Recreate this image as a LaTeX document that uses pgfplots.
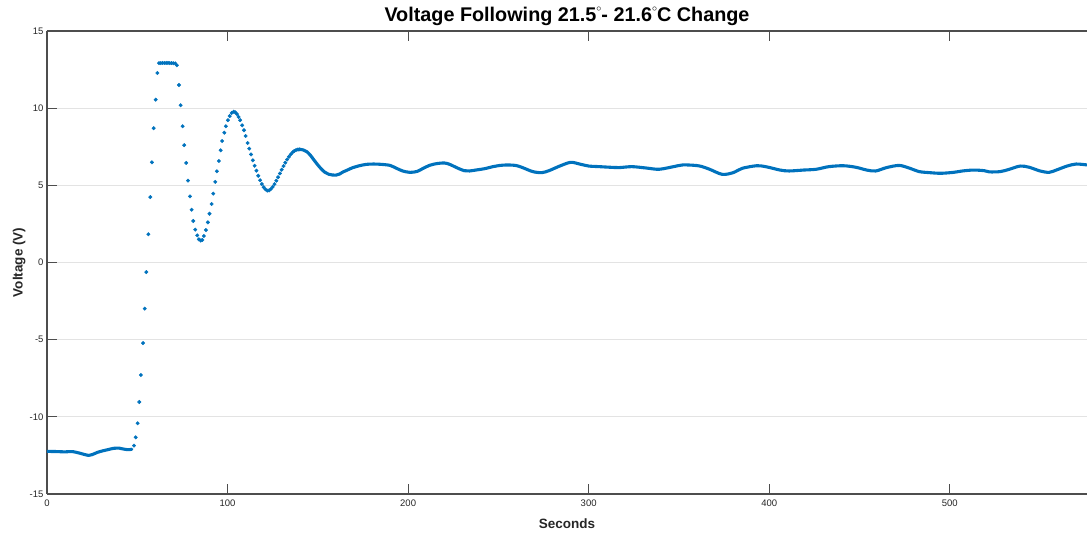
\documentclass[border=0pt]{standalone}
\usepackage{fontspec}
\setmainfont{Liberation Sans}
\usepackage{pgfplots}
\pgfplotsset{compat=1.18}
\definecolor{mblue}{HTML}{0072BD}
\definecolor{axgray}{HTML}{4D4D4D}
\definecolor{gridgray}{HTML}{E3E3E3}
\definecolor{lblgray}{HTML}{262626}
\newcommand{\degring}{\raisebox{0.5em}{\fontsize{10}{10}\selectfont$\circ$}}

\begin{document}
\begin{tikzpicture}
\begin{axis}[
  scale only axis, width=1040pt, height=463pt,
  xmin=0, xmax=576, ymin=-15, ymax=15,
  axis x line*=box, axis y line*=left,
  axis line style={axgray, line width=1.2pt},
  xtick={0,100,200,300,400,500}, ytick={-15,-10,-5,0,5,10,15},
  tick align=inside, major tick length=10pt,
  tick style={axgray, line width=1pt},
  ymajorgrids, grid style={gridgray, line width=1pt},
  /pgf/number format/assume math mode=true,
  ticklabel style={font=\fontsize{9.5}{11}\selectfont, text=lblgray},
  xticklabel style={yshift=-2pt},
  title={Voltage Following 21.5\degring- 21.6\degring C Change},
  title style={font=\fontsize{19.8}{22}\selectfont\bfseries, text=black, at={(axis description cs:0.5,1.008)}, anchor=base, inner sep=0pt},
  xlabel={Seconds},
  xlabel style={font=\fontsize{13.5}{16}\selectfont\bfseries, text=lblgray, at={(axis description cs:0.5,-0.0756)}, anchor=base},
  ylabel={Voltage (V)},
  ylabel style={font=\fontsize{13.5}{16}\selectfont\bfseries, text=lblgray, at={(axis description cs:-0.0235,0.5)}, anchor=base},
]
\coordinate (bl) at (rel axis cs:0,0);
\coordinate (tr) at (rel axis cs:1,1);

% initial plateau (dense samples, drawn as thick line)
\addplot[mblue, line width=3.1pt, line join=round, line cap=round, smooth] coordinates {
(0,-12.24) (5,-12.25) (10,-12.27) (14,-12.25) (18,-12.35) (21,-12.45) (23,-12.5)
(25,-12.45) (28,-12.3) (31,-12.2) (34,-12.12) (37,-12.04) (40,-12.03) (42,-12.08)
(44,-12.12) (46,-12.12) (47,-12.1)
};

% fast transient, individual samples
\addplot[mblue, only marks, mark=*, mark size=1.75pt, mark options={draw=none, fill=mblue}] coordinates {
(48.2,-11.87) (49.1,-11.33) (50.2,-10.42) (51.1,-9.04) (52.0,-7.29) (53.2,-5.22)
(54.1,-2.99) (55.0,-0.62) (56.1,1.83) (57.2,4.24) (58.1,6.49) (59.1,8.70)
(60.2,10.55) (61.1,12.28) (62.0,12.92) (63.0,12.92) (64.0,12.93) (65.0,12.93)
(66.0,12.93) (67.0,12.93) (68.0,12.92) (69.0,12.92) (70.0,12.91) (71.0,12.90)
(71.9,12.78) (73.1,11.50) (74.0,10.19) (75.1,8.83) (76.0,7.60) (77.1,6.45)
(78.1,5.30) (79.2,4.29) (80.1,3.42) (81.0,2.69) (82.1,2.13) (83.2,1.76)
(84.1,1.50) (85.1,1.42) (86.0,1.46) (86.9,1.72) (88.0,2.10) (89.1,2.60)
(90.0,3.16) (91.2,3.79) (92.1,4.46) (93.2,5.22) (94.1,5.91) (95.2,6.58)
(96.2,7.27) (97.0,7.87) (98.2,8.41) (99.1,8.83) (100.2,9.22) (101.2,9.49)
(102.3,9.69) (103.4,9.77) (104.3,9.73) (105.2,9.62) (106.1,9.43) (107.0,9.22)
(108.1,8.89) (109.1,8.57) (110.0,8.20) (111.1,7.74) (112.0,7.38) (113.0,7.00)
(114.0,6.62) (115.0,6.27) (116.0,5.95) (117.0,5.62) (118.0,5.33) (119.0,5.08)
(120.0,4.88) (121.0,4.74) (122.0,4.66) (123.0,4.67) (124.0,4.76) (125.0,4.90)
(126.0,5.08) (127.0,5.30) (128.0,5.53) (129.0,5.77) (130.0,6.01) (131.0,6.25)
(132.0,6.47) (133.0,6.67) (134.0,6.85) (135.0,7.01) (136.0,7.14) (137.0,7.23)
(138.0,7.29) (139.0,7.32) (140.0,7.33)
};

% settled response (dense samples, drawn as thick line)
\addplot[mblue, line width=3.1pt, line join=round, line cap=round, smooth] coordinates {
(139,7.32) (140,7.33) (142,7.29) (144,7.17) (146,6.93) (148,6.62) (150,6.32) (152,6.05)
(154,5.84) (156,5.72) (158,5.67) (160,5.66) (162,5.73) (164,5.87) (166,5.97)
(169,6.13) (173,6.27) (177,6.36) (181,6.38) (185,6.36) (190,6.29) (194,6.08)
(197,5.93) (201,5.84) (205,5.90) (208,6.08) (212,6.30) (216,6.41) (220,6.45)
(223,6.36) (227,6.14) (231,5.95) (234,5.93) (238,6.00) (242,6.07) (247,6.21)
(251,6.29) (255,6.32) (260,6.28) (264,6.12) (269,5.89) (274,5.82) (278,5.95)
(284,6.25) (290,6.49) (295,6.38) (300,6.25) (306,6.21) (312,6.17) (317,6.15)
(324,6.21) (332,6.12) (339,6.04) (347,6.21) (352,6.32) (358,6.30) (362,6.24)
(367,6.04) (374,5.71) (380,5.82) (385,6.10) (393,6.27) (398,6.21) (406,5.99)
(411,5.93) (419,5.99) (426,6.04) (433,6.21) (441,6.27) (448,6.17) (454,5.99)
(459,5.93) (465,6.15) (472,6.29) (478,6.10) (483,5.89) (489,5.82) (495,5.78)
(502,5.84) (507,5.93) (513,5.99) (519,5.95) (522,5.87) (528,5.89) (533,6.04)
(539,6.25) (544,6.17) (550,5.93) (555,5.84) (559,5.99) (565,6.25) (570,6.38)
(576,6.32)
};
\end{axis}
\pgfresetboundingbox
\path[use as bounding box] ([xshift=-47pt,yshift=-41pt]bl) rectangle ([yshift=31pt]tr);
\end{tikzpicture}
\end{document}
